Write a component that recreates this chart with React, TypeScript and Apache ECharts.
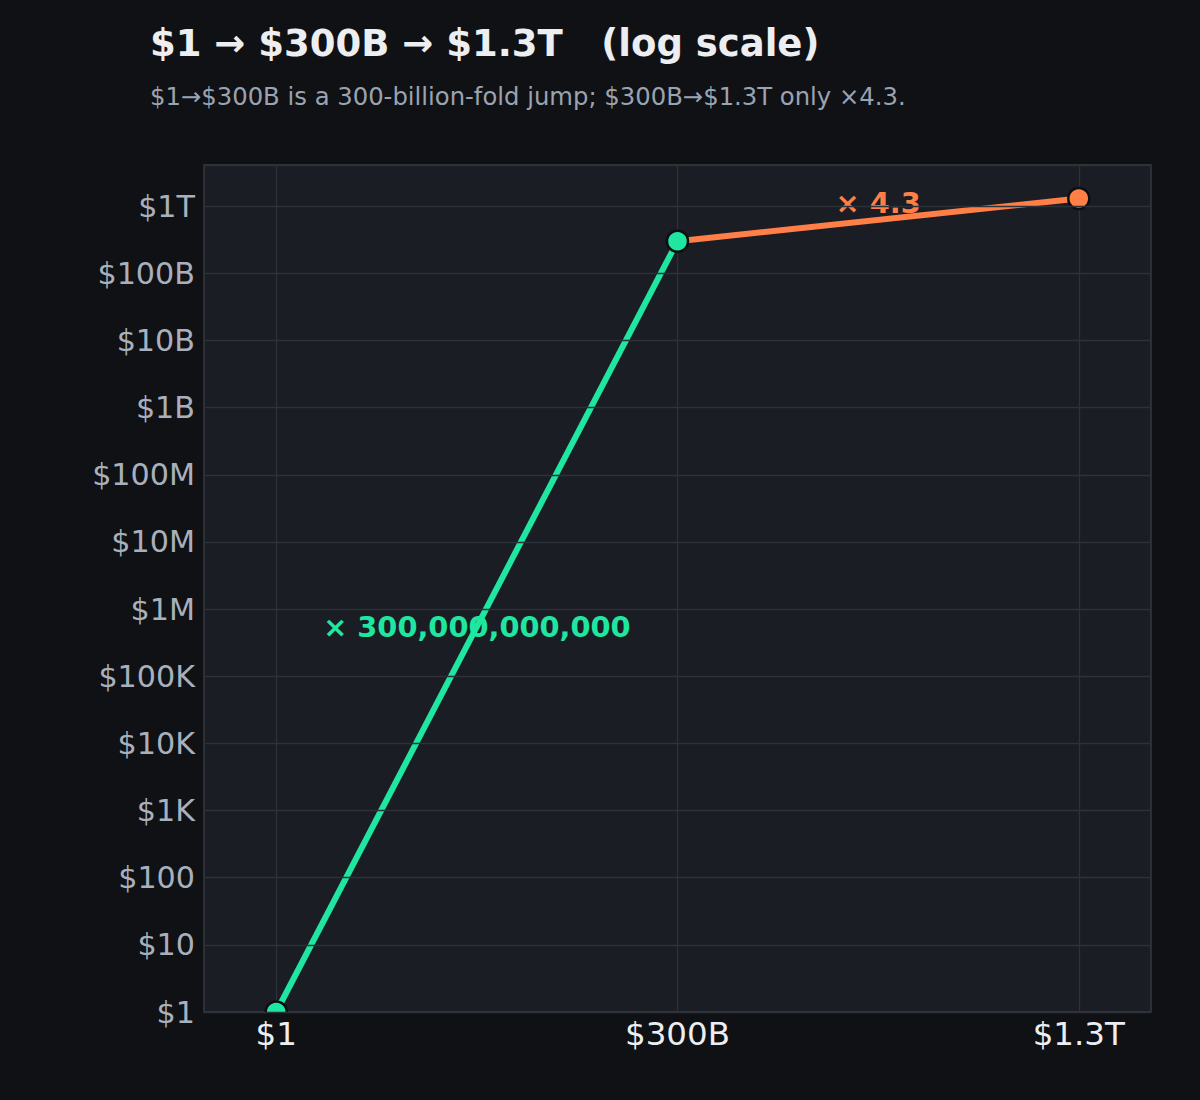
import React, { useEffect, useRef } from "react";
import * as echarts from "echarts";

const categories = ["$1", "$300B", "$1.3T"];
const values = [1, 3e11, 1.3e12];
const yTickLabels = ["$1", "$10", "$100", "$1K", "$10K", "$100K", "$1M", "$10M", "$100M", "$1B", "$10B", "$100B", "$1T"];
const annotations = ["× 300,000,000,000", "× 4.3"];
const titleText = "$1 → $300B → $1.3T   (log scale)";
const subtitleText = "$1→$300B is a 300-billion-fold jump; $300B→$1.3T only ×4.3.";

const GREEN = "#1fe6a0";
const ORANGE = "#ff7f47";
const PAGE_BG = "#101115";
const PLOT_BG = "#1a1d23";
const GRID = "#2d3139";
const FONT = "DejaVu Sans";

const G_LEFT = 204, G_TOP = 165, G_RIGHT = 49, G_BOTTOM = 88;

export default function App() {
  const ref = useRef<HTMLDivElement>(null);
  useEffect(() => {
    if (!ref.current) return;
    const chart = echarts.init(ref.current, undefined, { renderer: "svg" });
    const mid1 = Math.sqrt(values[0] * values[1]);
    const mid2 = Math.sqrt(values[1] * values[2]);
    const option: any = {
      animation: false,
      backgroundColor: PAGE_BG,
      grid: {
        left: G_LEFT, top: G_TOP, right: G_RIGHT, bottom: G_BOTTOM,
        show: true, backgroundColor: PLOT_BG, borderColor: "#3a3e46", borderWidth: 1.3,
      },
      xAxis: {
        type: "value", min: -0.18, max: 2.18, z: 10,
        axisLine: { show: false }, axisTick: { show: false }, splitLine: { show: false },
        axisLabel: {
          customValues: [0, 1, 2], margin: 5,
          color: "#eceef1", fontSize: 32.5, fontFamily: FONT,
          formatter: (v: number) => categories[Math.round(v)] ?? "",
        },
      },
      yAxis: {
        type: "log", logBase: 10, min: 1, max: 4.1e12, interval: 1, z: 10,
        axisLine: { show: false }, axisTick: { show: false },
        splitLine: { show: true, lineStyle: { color: GRID, width: 1.3 } },
        axisLabel: {
          margin: 9, color: "#a8b0bc", fontSize: 30.2, fontFamily: FONT,
          showMaxLabel: false,
          formatter: (v: number) => {
            const l = Math.log10(v);
            const i = Math.round(l);
            if (Math.abs(l - i) > 1e-6) return "";
            return yTickLabels[i] ?? "";
          },
        },
      },
      graphic: [
        { type: "text", left: 150, top: 25, z: 20,
          style: { text: titleText, fill: "#eceef1", font: `bold 37px '${FONT}'` } },
        { type: "text", left: 150, top: 84, z: 20,
          style: { text: subtitleText, fill: "#9aa3b0", font: `24.3px '${FONT}'` } },
        { type: "rect", z: 5, shape: { x: G_LEFT + 72 - 16, y: 1100 - G_BOTTOM + 1, width: 32, height: 12 },
          style: { fill: PAGE_BG } },
      ],
      series: [
        {
          type: "scatter", z: 1, symbolSize: 0, silent: true,
          itemStyle: { opacity: 1 },
          data: [
            { value: [0.5, mid1], label: { show: true, position: "inside", formatter: annotations[0], color: GREEN, fontSize: 28.8, fontWeight: "bold", fontFamily: FONT, opacity: 1 } },
            { value: [1.5, mid2], label: { show: true, position: "inside", offset: [0, -17], formatter: annotations[1], color: ORANGE, fontSize: 28.8, fontWeight: "bold", fontFamily: FONT, opacity: 1 } },
          ],
          markLine: {
            silent: true, symbol: "none", label: { show: false }, z: 1,
            lineStyle: { color: GRID, width: 1.3, type: "solid" },
            data: [{ xAxis: 0 }, { xAxis: 1 }, { xAxis: 2 }],
          },
        },
        {
          type: "line", z: 2, clip: false,
          data: [
            { value: [1, values[1]], symbol: "none" },
            { value: [2, values[2]] },
          ],
          symbol: "circle", symbolSize: 21, showSymbol: true,
          lineStyle: { color: ORANGE, width: 6 },
          itemStyle: { color: ORANGE, borderColor: "#0d0e11", borderWidth: 2.5 },
        },
        {
          type: "line", z: 3, clip: false,
          data: [[0, values[0]], [1, values[1]]],
          symbol: "circle", symbolSize: 21, showSymbol: true,
          lineStyle: { color: GREEN, width: 6 },
          itemStyle: { color: GREEN, borderColor: "#0d0e11", borderWidth: 2.5 },
        },
      ],
    };
    chart.setOption(option);
    return () => chart.dispose();
  }, []);
  return (
    <div
      ref={ref}
      style={{ position: "fixed", left: 0, top: 0, width: 1200, height: 1100 }}
    />
  );
}
